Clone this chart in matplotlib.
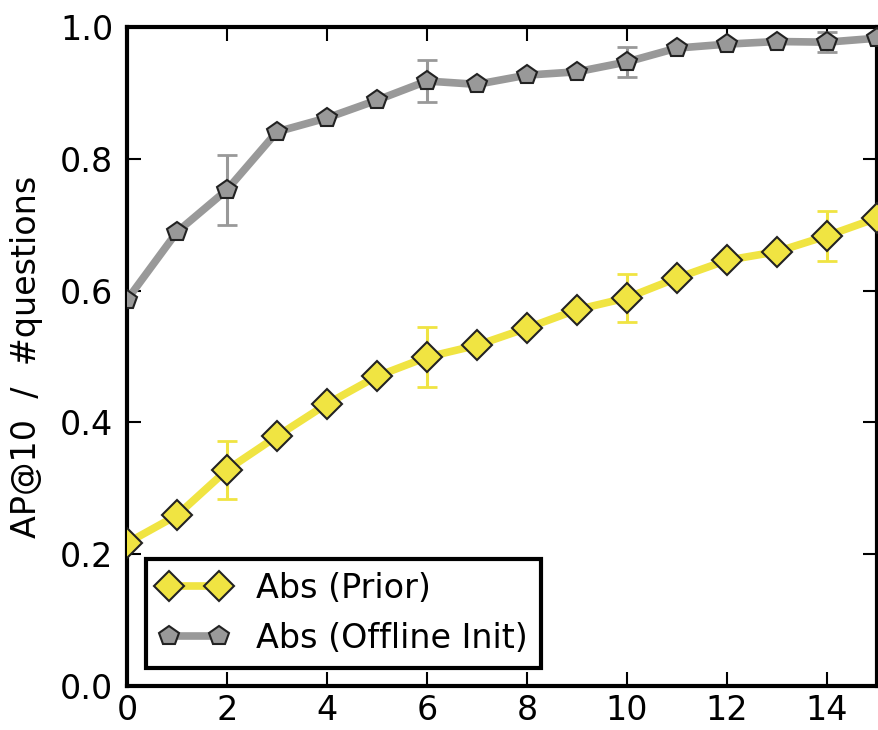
import numpy as np
import matplotlib
matplotlib.use('Agg')
import matplotlib.pyplot as plt

x = np.arange(16)
prior = [0.217, 0.259, 0.328, 0.379, 0.428, 0.470, 0.499, 0.517,
         0.543, 0.571, 0.589, 0.619, 0.646, 0.659, 0.683, 0.710]
prior_err = [0, 0, 0.044, 0, 0, 0, 0.046, 0,
             0, 0, 0.036, 0, 0, 0, 0.038, 0]
offline = [0.586, 0.689, 0.753, 0.841, 0.862, 0.889, 0.918, 0.913,
           0.927, 0.932, 0.947, 0.968, 0.974, 0.978, 0.977, 0.983]
offline_err = [0, 0, 0.053, 0, 0, 0, 0.032, 0,
               0, 0, 0.023, 0, 0, 0, 0.015, 0]

yellow = '#f0e442'
grey = '#999999'
fs = 24

fig = plt.figure(figsize=(8.79, 7.30), dpi=100)
ax = fig.add_axes([0.1445, 0.0603, 0.853, 0.9027])

for y, err, c, m, lab in [(prior, prior_err, yellow, 'D', 'Abs (Prior)'),
                          (offline, offline_err, grey, 'p', 'Abs (Offline Init)')]:
    ax.errorbar(x, y, yerr=err, errorevery=(2, 4), fmt='none', ecolor=c,
                elinewidth=2.2, capsize=7, capthick=2, zorder=2)
    ax.plot(x, y, color=c, lw=5.5, marker=m, markersize=15, markerfacecolor=c,
            markeredgecolor='#222222', markeredgewidth=1.5, label=lab, zorder=3)

ax.set_xlim(0, 15)
ax.set_ylim(0, 1.0)
ax.set_xticks(np.arange(0, 15, 2))
ax.set_yticks(np.arange(0, 1.01, 0.2))
ax.set_yticklabels(['%.1f' % v for v in np.arange(0, 1.01, 0.2)])
ax.tick_params(direction='in', length=10, width=1.5, labelsize=fs,
               top=True, right=True)
ax.tick_params(axis='y', pad=10)
ax.tick_params(axis='x', pad=6)
for s in ax.spines.values():
    s.set_linewidth(3)
ax.set_ylabel('AP@10  /  #questions', fontsize=fs, labelpad=12)

leg = ax.legend(loc='lower left', fontsize=fs, numpoints=2, fancybox=False,
                framealpha=1, bbox_to_anchor=(0.012, 0.012), borderaxespad=0.3,
                handlelength=2.1)
leg.get_frame().set_edgecolor('black')
leg.get_frame().set_linewidth(3)

fig.savefig('out.png', dpi=100)
